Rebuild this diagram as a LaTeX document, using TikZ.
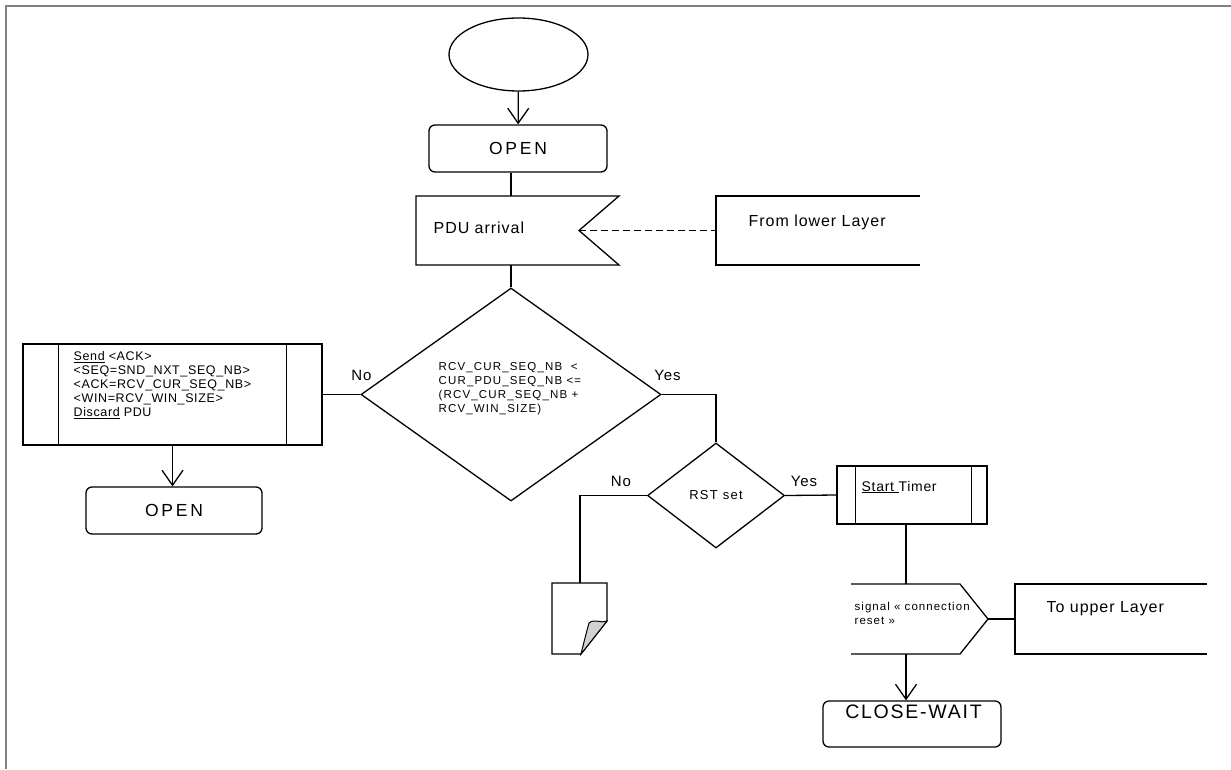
\documentclass[tikz,border=0pt]{standalone}
\usepackage{fontspec}
\setmainfont{Liberation Sans}[LetterSpace=6]
\usetikzlibrary{shapes.geometric,arrows.meta}
\definecolor{framegray}{RGB}{128,128,128}

\begin{document}
\begin{tikzpicture}[x=1pt,y=-1pt,line width=1.3pt,
  flow/.style={-{Straight Barb[length=15pt,width=21pt,line width=1.3pt]}},
  statebox/.style={draw,rounded corners=6pt,minimum width=178pt,minimum height=47pt,inner sep=0pt},
  statetxt/.style={font=\fontsize{17.5}{17.5}\selectfont\addfontfeature{LetterSpace=16}},
  bigtxt/.style={font=\fontsize{16}{16}\selectfont},
  lbl/.style={font=\fontsize{15}{15}\selectfont,inner sep=0pt},
  smalltxt/.style={anchor=north west,align=left,inner sep=0pt}]
\useasboundingbox (0,0) rectangle (1231,769);
\draw[framegray,line width=2pt] (6,769) -- (6,6) -- (1231,6);

% start and first state
\node[draw,ellipse,minimum width=139pt,minimum height=73pt,inner sep=0pt] (start) at (518.5,54.5) {};
\node[statebox,statetxt] (open) at (518,148.5) {OPEN};
\draw[flow] (start) -- (open);

% input PDU arrival
\coordinate (pdu-in) at (511,196);
\coordinate (pdu-out) at (511,265);
\draw (416,196) -- (619,196) -- (579,230.5) coordinate (pdu-notch) -- (619,265) -- (416,265) -- cycle;
\node[bigtxt,anchor=west,inner sep=0pt] (pdu) at (433,228) {PDU arrival};
\draw (pdu-in |- open.south) -- (pdu-in);
\draw (716,230.5) coordinate (from-in) (920,196) -- (716,196) -- (716,265) -- (920,265);
\node[bigtxt,anchor=west,inner sep=0pt] (from) at (748,222) {From lower Layer};
\draw[dashed,dash pattern=on 7pt off 4pt] (pdu-notch) -- (from-in);

% window test
\node[draw,diamond,minimum width=300pt,minimum height=213pt,inner sep=0pt] (test) at (511,394.5) {};
\node[smalltxt,font=\fontsize{11.5}{14}\selectfont\addfontfeature{LetterSpace=10}] (testtxt) at (438,362)
  {RCV\_CUR\_SEQ\_NB \ <\\CUR\_PDU\_SEQ\_NB <=\\(RCV\_CUR\_SEQ\_NB +\\RCV\_WIN\_SIZE)};
\draw (pdu-out) -- (test.north);
\node[lbl] (no1) at (361.5,375) {No};
\node[lbl] (yes1) at (667.5,375) {Yes};

% out of window: send ack
\node[draw,minimum width=299pt,minimum height=101pt,inner sep=0pt] (send) at (172.5,394.5) {};
\draw ([xshift=36pt]send.north west) -- ([xshift=36pt]send.south west);
\draw ([xshift=-36pt]send.north east) -- ([xshift=-36pt]send.south east);
\node[smalltxt,font=\fontsize{12.5}{14}\selectfont\addfontfeature{LetterSpace=5}] (sendtxt) at (73,351)
  {\underline{Send} <ACK>\\<SEQ=SND\_NXT\_SEQ\_NB>\\<ACK=RCV\_CUR\_SEQ\_NB>\\<WIN=RCV\_WIN\_SIZE>\\\underline{Discard} PDU};
\draw (test.west) -- (send.east);
\node[statebox,statetxt,minimum width=176pt] (open2) at (174,510.5) {OPEN};
\draw[flow] (send.south) -- (send.south |- open2.north);

% reset test
\node[draw,diamond,minimum width=137pt,minimum height=105pt,inner sep=0pt,
  font=\fontsize{13}{13}\selectfont\addfontfeature{LetterSpace=10}] (rst) at (716,495.5) {RST set};
\draw (test.east) -| (rst.north);
\node[lbl] (no2) at (621,481) {No};
\node[lbl] (yes2) at (804,481) {Yes};

% no reset: page
\coordinate (page) at (580,583);
\draw (552,583) -- (607,583) -- (607,621) -- (581,654) -- (552,654) -- cycle;
\filldraw[fill=gray!35,line width=1pt] (607,621) .. controls (601,624) and (595,618) .. (589,623)
  .. controls (586,634) .. (581,654) -- cycle;
\draw (rst.west) -| (page);

% reset: timer, signal
\node[draw,minimum width=150pt,minimum height=58pt,inner sep=0pt] (timer) at (912,495) {};
\draw ([xshift=19pt]timer.north west) -- ([xshift=19pt]timer.south west);
\draw ([xshift=-16pt]timer.north east) -- ([xshift=-16pt]timer.south east);
\node[anchor=west,inner sep=0pt,font=\fontsize{14}{14}\selectfont\addfontfeature{LetterSpace=5}] (timertxt) at (861,487)
  {\underline{Start\ }Timer};
\draw (rst.east) -- (timer.west);

\coordinate (sig-in) at (906,584);
\coordinate (sig-down) at (906,654);
\draw (851,584) -- (960,584) -- (988,619) coordinate (sig-out) -- (960,654) -- (851,654);
\node[smalltxt,font=\fontsize{11.5}{14}\selectfont\addfontfeature{LetterSpace=9}] (sigtxt) at (854,602)
  {signal « connection\\reset »};
\draw (sig-in |- timer.south) -- (sig-in);
\draw (1015,619) coordinate (to-in) (1207,584) -- (1015,584) -- (1015,654) -- (1207,654);
\node[bigtxt,anchor=west,inner sep=0pt] (to) at (1046,609) {To upper Layer};
\draw (sig-out) -- (to-in);

\node[statebox,minimum height=46pt] (close) at (912,724) {};
\node[inner sep=0pt,font=\fontsize{19.5}{19.5}\selectfont\addfontfeature{LetterSpace=9}] (closetxt) at (913.5,712) {CLOSE-WAIT};
\draw[flow] (sig-down) -- (sig-down |- close.north);
\end{tikzpicture}
\end{document}
